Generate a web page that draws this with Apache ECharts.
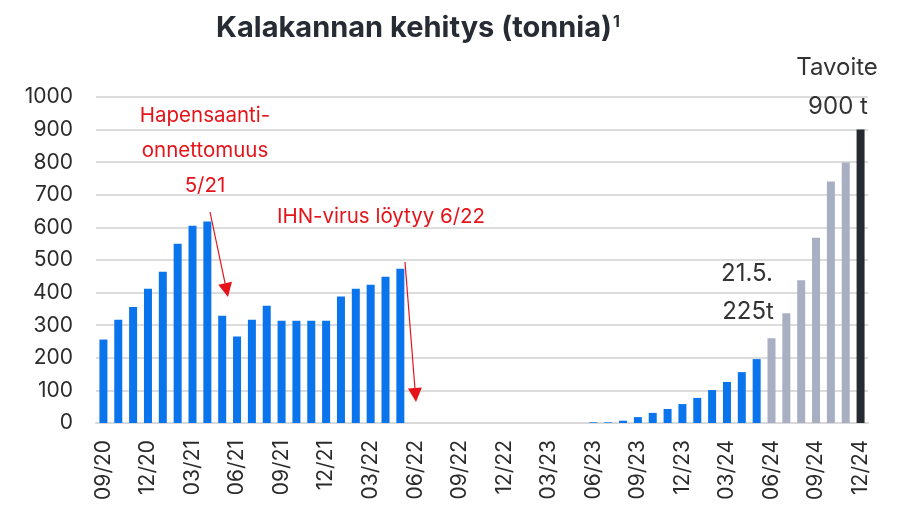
<!DOCTYPE html>
<html>
<head>
<meta charset="utf-8">
<script src="https://cdn.jsdelivr.net/npm/echarts@6/dist/echarts.min.js"></script>
<style>
  html, body { margin: 0; padding: 0; background: #fff; }
  #main { width: 902px; height: 527px; }
</style>
</head>
<body>
<div id="main"></div>
<script>
    // kuukaudet 09/20 - 12/24
    var months = [];
    for (var y = 20; y <= 24; y++) {
        for (var m = 1; m <= 12; m++) {
            if (y === 20 && m < 9) continue;
            months.push((m < 10 ? '0' + m : '' + m) + '/' + y);
        }
    }

    // toteutunut kalakanta (tonnia), 09/20 - 05/24
    var actual = [256, 317, 356, 412, 464, 550, 605, 618, 329, 265, 317, 360,
        314, 314, 314, 314, 388, 412, 424, 449, 473,
        0, 0, 0, 0, 0, 0, 0, 0, 0, 0, 0, 0,
        2, 2, 7, 18, 31, 43, 58, 77, 101, 126, 156, 196];
    // ennuste 06/24 - 11/24
    var forecast = [260, 337, 438, 568, 741, 799];
    // tavoite 12/24
    var target = [900];

    var yTicks = [0, 100, 200, 300, 400, 500, 600, 700, 800, 900, 1000];

    var barData = [];
    for (var i = 0; i < months.length; i++) {
        var v, c;
        if (i < actual.length) { v = actual[i]; c = '#0a74ec'; }
        else if (i < actual.length + forecast.length) { v = forecast[i - actual.length]; c = '#a9afc2'; }
        else { v = target[i - actual.length - forecast.length]; c = '#262b31'; }
        barData.push({ value: v, itemStyle: { color: c } });
    }

    var red = '#e5141b';
    var font = 'Inter';

    var myChart = echarts.init(document.getElementById('main'));

    var option = {
        animation: false,
        textStyle: { fontFamily: font },
        title: {
            text: '{t|Kalakannan kehitys (tonnia)}{s|1}',
            left: 413,
            top: 9,
            textAlign: 'center',
            textStyle: {
                rich: {
                    t: { fontFamily: font, fontSize: 29, fontWeight: 'bold', color: '#272b33' },
                    s: { fontFamily: font, fontSize: 16, fontWeight: 'bold', color: '#272b33', verticalAlign: 'top', padding: [0, 0, 12, 1] }
                }
            }
        },
        grid: { left: 96, right: 34, top: 97, bottom: 104 },
        xAxis: {
            type: 'category',
            data: months,
            axisLine: { lineStyle: { color: '#d9d9d9', width: 2 } },
            axisTick: { show: false },
            axisLabel: {
                interval: 2,
                rotate: 90,
                fontSize: 21,
                color: '#2b2b2b',
                margin: 17,
                fontFamily: font
            }
        },
        yAxis: {
            type: 'value',
            min: yTicks[0],
            max: yTicks[yTicks.length - 1],
            interval: 100,
            axisLine: { show: false },
            axisTick: { show: false },
            splitLine: { lineStyle: { color: '#dcdcdc', width: 2 } },
            axisLabel: {
                fontSize: 21, color: '#2b2b2b', margin: 23, fontFamily: font,
                formatter: function (v) { return String(v); }
            }
        },
        series: [{
            type: 'bar',
            data: barData,
            barWidth: 8
        }]
    };

    myChart.setOption(option);

    // huomautukset ja nuolet
    var txt = function (x, y, s, color, size) {
        return {
            type: 'text', x: x, y: y,
            style: { text: s, fill: color, font: size + 'px ' + font, textAlign: 'center', textVerticalAlign: 'middle' }
        };
    };
    var arrow = function (x1, y1, x2, y2) {
        var ang = Math.atan2(y2 - y1, x2 - x1);
        var L = 14, W = 7;
        var bx = x2 - L * Math.cos(ang), by = y2 - L * Math.sin(ang);
        var nx = -Math.sin(ang) * W, ny = Math.cos(ang) * W;
        return [
            { type: 'line', shape: { x1: x1, y1: y1, x2: bx, y2: by }, style: { stroke: red, lineWidth: 1.2 } },
            { type: 'polygon', shape: { points: [[x2, y2], [bx + nx, by + ny], [bx - nx, by - ny]] }, style: { fill: red } }
        ];
    };

    var g = [
        txt(205, 116, 'Hapensaanti-', red, 20.5),
        txt(205, 151, 'onnettomuus', red, 20.5),
        txt(205, 186, '5/21', red, 20.5),
        txt(381, 217, 'IHN-virus löytyy 6/22', red, 20.5),
        txt(747, 274, '21.5.', '#333', 24),
        txt(748, 312, '225t', '#333', 24),
        txt(837, 68, 'Tavoite', '#333', 24),
        txt(838, 107, '900 t', '#333', 24)
    ];
    g = g.concat(arrow(210, 212, 228, 297));
    g = g.concat(arrow(405, 262, 416, 402));

    myChart.setOption({ graphic: g });
</script>
</body>
</html>
